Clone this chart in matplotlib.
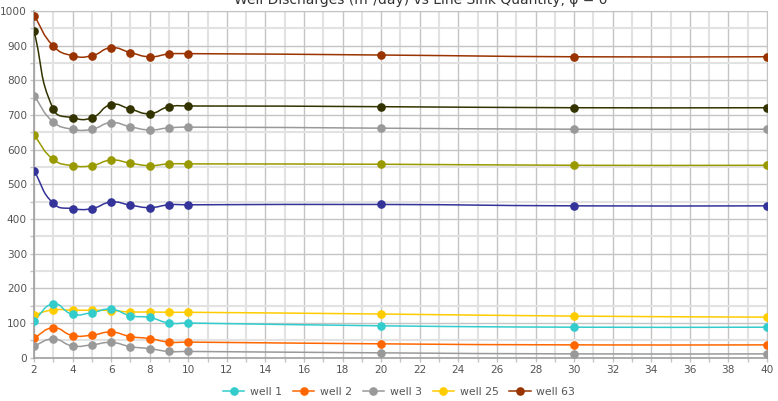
import numpy as np
import matplotlib
matplotlib.use("Agg")
import matplotlib.pyplot as plt
from matplotlib.path import Path
from matplotlib.patches import PathPatch
from matplotlib.lines import Line2D
from matplotlib.ticker import MultipleLocator

# line sink quantity on the x axis
quantity = [2, 3, 4, 5, 6, 7, 8, 9, 10, 20, 30, 40]

# discharges (m3/day) per well
well_1 = [107, 155, 125, 130, 140, 121, 116, 100, 100, 92, 88, 88]
well_2 = [57, 86, 64, 65, 74, 61, 55, 45, 45, 40, 37, 37]
well_3 = [34, 54, 34, 37, 44, 32, 26, 18, 18, 14, 11, 11]
well_25 = [124, 138, 137, 137, 136, 132, 132, 131, 131, 126, 120, 117]
well_63 = [987, 899, 871, 871, 894, 880, 868, 876, 877, 873, 868, 868]
# the remaining wells, drawn but left out of the legend
well_a = [942, 717, 692, 692, 730, 717, 704, 724, 726, 724, 721, 721]
well_b = [755, 680, 659, 659, 678, 666, 657, 663, 665, 662, 659, 659]
well_c = [642, 572, 554, 554, 570, 561, 554, 559, 559, 558, 555, 555]
well_d = [539, 445, 430, 430, 449, 440, 433, 441, 441, 442, 438, 438]

series = [
    ("well 63", well_63, "#993300", True),
    (None, well_a, "#333300", False),
    (None, well_b, "#999999", False),
    (None, well_c, "#999900", False),
    (None, well_d, "#333399", False),
    ("well 25", well_25, "#ffcc00", True),
    ("well 1", well_1, "#33cccc", True),
    ("well 2", well_2, "#ff6600", True),
    ("well 3", well_3, "#999999", True),
]
legend_order = ["well 1", "well 2", "well 3", "well 25", "well 63"]

fig = plt.figure(figsize=(7.78, 4.01), dpi=100)
ax = fig.add_axes([34 / 778, 43.3 / 401, 733 / 778, 346.7 / 401])
ax.set_xlim(2, 40)
ax.set_ylim(0, 1000)


def smooth_path(xs, ys, smooth=0.5):
    # bezier through the points, control points built in screen space
    pts = ax.transData.transform(np.column_stack([xs, ys]))
    n = len(pts)
    verts = [pts[0]]
    codes = [Path.MOVETO]
    cps = []
    for i in range(n):
        prev = pts[i - 1] if i > 0 else pts[i]
        nxt = pts[i + 1] if i < n - 1 else pts[i]
        v = nxt - prev
        d0 = np.hypot(*(pts[i] - prev))
        d1 = np.hypot(*(nxt - pts[i]))
        s = d0 + d1
        if s == 0:
            cps.append((pts[i], pts[i]))
            continue
        c0 = pts[i] - v * smooth * d0 / s
        c1 = pts[i] + v * smooth * d1 / s
        cps.append((c0, c1))
    for i in range(n - 1):
        verts += [cps[i][1], cps[i + 1][0], pts[i + 1]]
        codes += [Path.CURVE4] * 3
    verts = ax.transData.inverted().transform(np.array(verts))
    return Path(verts, codes)


handles = {}
for name, vals, col, shown in series:
    ax.add_patch(PathPatch(smooth_path(quantity, vals), facecolor="none",
                           edgecolor=col, lw=1.1, zorder=3))
    ax.plot(quantity, vals, ls="none", marker="o", ms=5.2, color=col, zorder=4)
    if shown:
        handles[name] = Line2D([], [], color=col, lw=1.1, marker="o", ms=5.2)

# grid: every unit / every 50, heavier on labelled ticks
ax.xaxis.set_major_locator(MultipleLocator(2))
ax.xaxis.set_minor_locator(MultipleLocator(1))
ax.yaxis.set_major_locator(MultipleLocator(100))
ax.yaxis.set_minor_locator(MultipleLocator(50))
ax.grid(which="major", color="#c4c4c4", lw=1.0, zorder=0)
ax.grid(which="minor", color="#e2e2e2", lw=1.5, zorder=0)
ax.set_axisbelow(True)

ax.tick_params(which="both", length=3, width=1, color="#c4c4c4",
               labelsize=7.6, labelcolor="#555555", pad=2)
for side in ["top", "right"]:
    ax.spines[side].set_color("#c4c4c4")
for side in ["left", "bottom"]:
    ax.spines[side].set_color("#a0a0a0")
    ax.spines[side].set_linewidth(1.2)

fig.text(421 / 778, 1 - 4 / 401,
         "Well Discharges (m\u00b3/day) vs Line Sink Quantity, \u03c6 = 0",
         ha="center", va="baseline", fontsize=10, color="#333333")

fig.legend([handles[k] for k in legend_order], legend_order,
           loc="center", bbox_to_anchor=(399 / 778, 1 - 392 / 401), ncol=5,
           frameon=False, fontsize=7.8, labelcolor="#555555",
           handlelength=2.0, handletextpad=0.5, columnspacing=1.0)

fig.savefig("out.png", dpi=100)
